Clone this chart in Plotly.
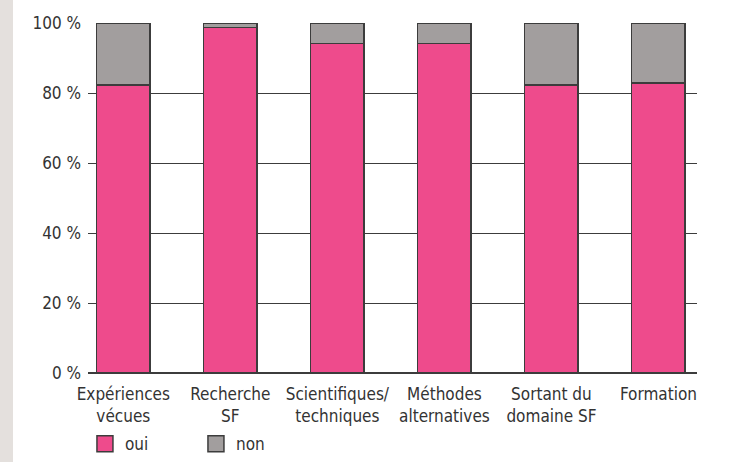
import plotly.graph_objects as go

categories = ["Expériences<br>vécues", "Recherche<br>SF", "Scientifiques/<br>techniques",
              "Méthodes<br>alternatives", "Sortant du<br>domaine SF", "Formation"]
oui = [82.3, 98.7, 94.2, 94.2, 82.3, 82.9]
non = [round(100 - v, 1) for v in oui]
y_ticks = [0, 20, 40, 60, 80, 100]
y_tick_labels = ["0 %", "20 %", "40 %", "60 %", "80 %", "100 %"]
series_names = ["oui", "non"]
series_colors = ["#ee4b8c", "#a29e9e"]

FONT = "DejaVu Sans Condensed, Liberation Sans Narrow, Open Sans, sans-serif"
TXT = "#333333"
LINE = "#3c3c3c"

fig = go.Figure()
for name, vals, col in zip(series_names, [oui, non], series_colors):
    fig.add_trace(go.Bar(x=categories, y=vals, name=name, showlegend=False,
                         marker=dict(color=col, line=dict(color=LINE, width=1.5)), width=0.5))
# legend swatches
for name, col in zip(series_names, series_colors):
    fig.add_trace(go.Scatter(x=[None], y=[None], mode="markers", name=name,
                             marker=dict(symbol="square", size=18, color=col,
                                         line=dict(color=LINE, width=1.5))))

fig.update_layout(
    barmode="stack",
    width=729, height=462,
    margin=dict(l=88, r=32, t=23, b=89, autoexpand=False),
    paper_bgcolor="white", plot_bgcolor="white",
    font=dict(family=FONT, size=17, color=TXT),
    showlegend=True,
    legend=dict(orientation="h", x=-0.005, y=-0.152, xanchor="left", yanchor="top",
                font=dict(size=17, color=TXT), entrywidth=66, entrywidthmode="pixels",
                traceorder="normal", itemwidth=30, bgcolor="rgba(0,0,0,0)"),
    xaxis=dict(type="category", range=[-0.33, 5.36], showgrid=False, showline=False,
               ticks="", ticklabelstandoff=9, tickfont=dict(size=17, color=TXT)),
    yaxis=dict(range=[0, 100], tickvals=y_ticks, ticktext=y_tick_labels,
               showgrid=True, gridcolor=LINE, gridwidth=1.3, zeroline=True,
               zerolinecolor=LINE, zerolinewidth=1.5, showline=False,
               ticks="", ticklabelstandoff=6, tickfont=dict(size=17, color=TXT)),
    shapes=[dict(type="rect", xref="paper", yref="paper", x0=-88/609, x1=-75/609, y0=-89/350, y1=1 + 23/350,
                 fillcolor="#e4e0dd", line=dict(width=0), layer="below")],
)

fig.write_html("out.html")
